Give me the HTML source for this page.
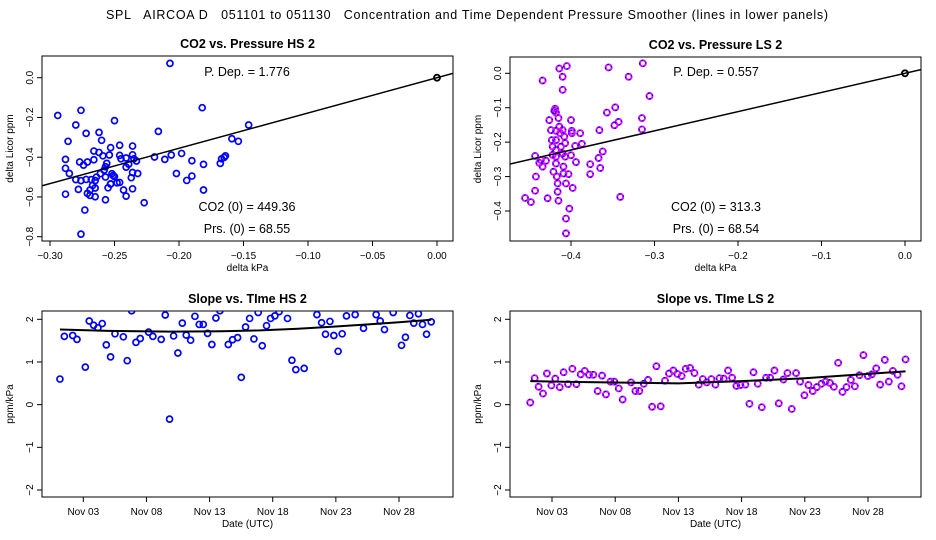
<!DOCTYPE html>
<html><head><meta charset="utf-8"><style>
body{margin:0;background:#fff}
svg{display:block;font-family:"Liberation Sans",sans-serif}
</style></head><body>
<svg id="c" width="936" height="540" xmlns="http://www.w3.org/2000/svg">
<text x="467" y="19" font-size="12.5" text-anchor="middle" textLength="722" lengthAdjust="spacing" style="white-space:pre">SPL   AIRCOA D   051101 to 051130   Concentration and Time Dependent Pressure Smoother (lines in lower panels)</text>
</svg>
<script>
// HS pressure scatter
const hsKpa=[-0.294,-0.276,-0.280,-0.272,-0.286,-0.262,-0.260,-0.250,-0.246,-0.236,-0.266,-0.259,-0.288,-0.277,-0.274,-0.271,-0.266,-0.262,-0.253,-0.254,-0.246,-0.245,-0.241,-0.236,-0.235,-0.233,-0.241,-0.239,-0.256,-0.257,-0.258,-0.252,-0.251,-0.250,-0.261,-0.264,-0.265,-0.268,-0.276,-0.285,-0.288,-0.272,-0.267,-0.265,-0.269,-0.271,-0.278,-0.269,-0.265,-0.288,-0.280,-0.273,-0.257,-0.253,-0.255,-0.253,-0.246,-0.243,-0.241,-0.236,-0.232,-0.236,-0.227,-0.219,-0.216,-0.211,-0.206,-0.198,-0.202,-0.194,-0.190,-0.190,-0.181,-0.181,-0.276,-0.182,-0.207,-0.168,-0.167,-0.165,-0.164,-0.159,-0.154,-0.146,-0.237,-0.248,-0.257];
const hsPpm=[-0.19,-0.164,-0.238,-0.28,-0.32,-0.275,-0.315,-0.216,-0.34,-0.344,-0.369,-0.393,-0.411,-0.424,-0.44,-0.424,-0.413,-0.376,-0.352,-0.389,-0.391,-0.408,-0.404,-0.388,-0.408,-0.419,-0.45,-0.435,-0.431,-0.448,-0.465,-0.483,-0.492,-0.498,-0.483,-0.5,-0.518,-0.513,-0.518,-0.482,-0.456,-0.512,-0.542,-0.555,-0.565,-0.582,-0.562,-0.592,-0.599,-0.586,-0.513,-0.666,-0.614,-0.535,-0.554,-0.534,-0.527,-0.565,-0.596,-0.477,-0.482,-0.559,-0.629,-0.399,-0.27,-0.411,-0.389,-0.381,-0.482,-0.517,-0.495,-0.418,-0.436,-0.565,-0.787,-0.151,0.072,-0.431,-0.408,-0.401,-0.393,-0.307,-0.32,-0.238,-0.503,-0.529,-0.5];
const hsSlope=1.776;
// LS pressure scatter
const lsKpa=[-0.455,-0.448,-0.443,-0.443,-0.442,-0.438,-0.436,-0.434,-0.434,-0.430,-0.428,-0.426,-0.424,-0.423,-0.422,-0.422,-0.421,-0.420,-0.419,-0.418,-0.418,-0.418,-0.418,-0.418,-0.418,-0.417,-0.416,-0.416,-0.415,-0.415,-0.414,-0.414,-0.413,-0.412,-0.410,-0.410,-0.410,-0.410,-0.409,-0.409,-0.408,-0.407,-0.407,-0.406,-0.406,-0.406,-0.405,-0.403,-0.402,-0.400,-0.400,-0.399,-0.399,-0.398,-0.395,-0.394,-0.389,-0.387,-0.377,-0.377,-0.367,-0.366,-0.365,-0.362,-0.357,-0.355,-0.347,-0.348,-0.343,-0.341,-0.331,-0.315,-0.315,-0.314,-0.306];
const lsPpm=[-0.362,-0.374,-0.341,-0.24,-0.3,-0.26,-0.252,-0.271,-0.021,-0.254,-0.363,-0.136,-0.165,-0.194,-0.213,-0.237,-0.286,-0.109,-0.103,-0.114,-0.167,-0.194,-0.223,-0.242,-0.262,-0.3,-0.32,-0.344,-0.37,-0.13,-0.155,0.014,-0.174,-0.213,-0.165,-0.233,-0.048,-0.01,-0.271,-0.291,-0.184,-0.203,-0.242,-0.32,-0.422,-0.465,0.021,-0.293,-0.393,-0.238,-0.136,-0.174,-0.167,-0.333,-0.211,-0.258,-0.174,-0.205,-0.264,-0.293,-0.246,-0.165,-0.275,-0.227,-0.114,0.017,-0.099,-0.151,-0.141,-0.359,-0.01,-0.163,-0.13,0.029,-0.066];
const lsSlope=0.557;
// HS slope vs time
const hsDay=[1.15,1.5,2.16,2.5,3.16,3.47,3.82,4.16,4.5,4.82,5.16,5.51,6.17,6.48,6.83,7.17,7.51,8.17,8.51,9.17,9.49,9.83,10.15,10.49,10.84,11.15,11.5,11.84,12.18,12.5,12.84,13.18,13.5,13.82,14.48,14.82,15.22,15.51,15.85,16.17,16.51,16.85,17.17,17.51,17.83,18.17,18.51,19.17,19.52,19.83,20.49,21.5,21.87,22.18,22.53,22.84,23.18,23.5,23.84,24.53,25.19,26.19,26.51,26.85,27.54,28.2,28.51,28.86,29.17,29.54,29.86,30.18,30.55];
const hsVal=[0.6,1.6,1.62,1.53,0.88,1.96,1.86,1.8,1.9,1.4,1.12,1.66,1.59,1.03,2.2,1.46,1.55,1.7,1.6,1.53,2.1,-0.34,1.61,1.21,1.91,1.63,1.51,2.07,1.88,1.88,1.67,1.41,2.03,2.2,1.41,1.52,1.57,0.64,1.82,2.02,1.54,2.16,1.38,1.85,2.02,2.08,2.18,2.02,1.04,0.82,0.85,2.11,1.92,1.65,1.95,1.62,1.25,1.66,2.08,2.11,1.79,2.11,1.96,1.76,2.16,1.39,1.58,2.09,1.91,2.13,1.88,1.65,1.94];
const hsSmDay=[1.15,5,10,14,17,20,23,26,28,30.55];
const hsSmVal=[1.76,1.73,1.71,1.72,1.74,1.78,1.83,1.89,1.93,1.99];
// LS slope vs time
const lsDay=[1.28,1.63,1.94,2.29,2.6,2.95,3.26,3.61,3.92,4.27,4.61,4.93,5.27,5.59,5.93,6.27,6.61,6.96,7.27,7.62,7.93,8.28,8.59,9.25,9.6,9.91,10.26,10.6,10.92,11.26,11.6,11.94,12.26,12.6,12.92,13.26,13.58,13.92,14.27,14.61,14.93,15.24,15.61,15.93,16.25,16.59,16.93,17.25,17.59,17.91,18.3,18.62,18.94,19.28,19.6,19.94,20.26,20.6,20.94,21.31,21.63,21.97,22.31,22.63,22.97,23.29,23.63,23.95,24.32,24.64,24.98,25.3,25.64,25.98,26.3,26.64,26.96,27.33,27.64,27.99,28.3,28.65,28.96,29.33,29.65,29.97,30.34,30.65,30.97];
const lsVal=[0.05,0.62,0.42,0.26,0.73,0.45,0.61,0.41,0.76,0.48,0.84,0.48,0.71,0.79,0.7,0.7,0.32,0.68,0.24,0.54,0.54,0.38,0.12,0.52,0.32,0.32,0.49,0.58,-0.05,0.9,-0.04,0.56,0.73,0.8,0.72,0.67,0.84,0.86,0.74,0.47,0.6,0.52,0.6,0.47,0.62,0.61,0.8,0.63,0.44,0.46,0.47,0.02,0.76,0.49,-0.06,0.63,0.63,0.8,0.03,0.59,0.74,-0.1,0.74,0.54,0.22,0.46,0.32,0.41,0.49,0.54,0.51,0.42,0.98,0.3,0.41,0.58,0.43,0.69,1.16,0.67,0.71,0.85,0.47,1.05,0.54,0.79,0.7,0.43,1.06];
const lsSmDay=[1.28,5,8,13,18,23,27,30.97];
const lsSmVal=[0.55,0.53,0.52,0.5,0.55,0.62,0.7,0.78];
const dateTicks=[3,8,13,18,23,28];
const dateLabels=["Nov 03","Nov 08","Nov 13","Nov 18","Nov 23","Nov 28"];

const svg=document.getElementById('c');const NS='http://www.w3.org/2000/svg';
function el(t,a,p){const e=document.createElementNS(NS,t);for(const k in a)e.setAttribute(k,a[k]);(p||svg).appendChild(e);return e;}
function lin(d0,d1,r0,r1){return v=>r0+(v-d0)*(r1-r0)/(d1-d0);}

function panel(o){
  const g=el('g',{});
  
  
  const t=el('text',{x:(o.L+o.R)/2,y:o.T-8,'font-size':12.5,'font-weight':'bold','text-anchor':'middle'},g);t.textContent=o.title;
  
  
  const cid='clip'+o.id;
  const cp=el('clipPath',{id:cid},g);el('rect',{x:o.L,y:o.T,width:o.R-o.L,height:o.B-o.T},cp);
  const fr=el('rect',{x:o.L,y:o.T,width:o.R-o.L,height:o.B-o.T,fill:'none',stroke:'#000','stroke-width':1},g);
  
  
  o.xt.forEach((v,i)=>{const x=o.sx(v);el('line',{x1:x,x2:x,y1:o.B,y2:o.B+5,stroke:'#000'},g);
    const tx=el('text',{x:x,y:o.B+18,'font-size':10,'text-anchor':'middle'},g);tx.textContent=o.xl[i];
    
    });
  o.yt.forEach((v,i)=>{const y=o.sy(v);el('line',{x1:o.L-5,x2:o.L,y1:y,y2:y,stroke:'#000'},g);
    const tx=el('text',{x:0,y:0,'font-size':10,'text-anchor':'middle',transform:`translate(${o.L-9},${y}) rotate(-90)`},g);tx.textContent=o.yl[i];
    
    });
  const xa=el('text',{x:(o.L+o.R)/2,y:o.B+30,'font-size':10,'text-anchor':'middle'},g);xa.textContent=o.xlab;
  
  
  const ya=el('text',{x:0,y:0,'font-size':10,'text-anchor':'middle',transform:`translate(${o.L-29},${(o.T+o.B)/2}) rotate(-90)`},g);ya.textContent=o.ylab;
  
  
  const pg=el('g',{'clip-path':`url(#${cid})`},g);
  o.xs.forEach((v,i)=>{const cx=o.sx(v),cy=o.sy(o.ys[i]);
    const c=el('circle',{cx:cx,cy:cy,r:3,fill:'none',stroke:o.col,'stroke-width':1.7},pg);
    
    
    if(o.col2){el('circle',{cx:cx,cy:cy,r:3,fill:'none',stroke:o.col2,'stroke-width':1.7,'stroke-dasharray':'3 1.7'},pg);}
  });
  return {g,pg};
}

function pressurePanel(id,name,title,L,R,T,B,xd,yd,xt,xl,yt,yl,xs,ys,slope,col,col2,txt){
  const sx=lin(xd[0],xd[1],xd[2],xd[3]),sy=lin(yd[0],yd[1],yd[2],yd[3]);
  const p=panel({id,name,title,L,R,T,B,sx,sy,xt,xl,yt,yl,xlab:'delta kPa',ylab:'delta Licor ppm',xs,ys,col,col2});
  const xa=(L-xd[2])/(xd[3]-xd[2])*(xd[1]-xd[0])+xd[0], xb=(R-xd[2])/(xd[3]-xd[2])*(xd[1]-xd[0])+xd[0];
  const ln=el('line',{x1:sx(xa),y1:sy(slope*xa),x2:sx(xb),y2:sy(slope*xb),stroke:'#000','stroke-width':1.5},p.pg);
  
  
  const z=el('circle',{cx:sx(0),cy:sy(0),r:3,fill:'none',stroke:'#000','stroke-width':1.8},p.pg);
  
  
  txt.forEach(t=>{const e=el('text',{x:t[0],y:t[1],'font-size':12.5,'text-anchor':'middle'},p.g);e.textContent=t[2];
    
    });
}
pressurePanel('a','pressure-panel-hs','CO2 vs. Pressure HS 2',42,453,56,241,[-0.3,0,50,437],[0,-0.8,77.7,236.7],
  [-0.3,-0.25,-0.2,-0.15,-0.1,-0.05,0],['−0.30','−0.25','−0.20','−0.15','−0.10','−0.05','0.00'],
  [0,-0.2,-0.4,-0.6,-0.8],['0.0','−0.2','−0.4','−0.6','−0.8'],hsKpa,hsPpm,hsSlope,'#0000ff',null,
  [[247,76,'P. Dep. =  1.776'],[247,211,'CO2 (0) =  449.36'],[247,233,'Prs. (0) =  68.55']]);
pressurePanel('b','pressure-panel-ls','CO2 vs. Pressure LS 2',510,921,57,241,[-0.4,0,571,905],[0,-0.4,73.3,211],
  [-0.4,-0.3,-0.2,-0.1,0],['−0.4','−0.3','−0.2','−0.1','0.0'],
  [0,-0.1,-0.2,-0.3,-0.4],['0.0','−0.1','−0.2','−0.3','−0.4'],lsKpa,lsPpm,lsSlope,'#0000ff','#ff00ff',
  [[716,76,'P. Dep. =  0.557'],[716,211,'CO2 (0) =  313.3'],[716,233,'Prs. (0) =  68.54']]);

function timePanel(id,name,title,L,R,x3,x28,xs,ys,smx,smy,col,col2){
  const sx=lin(3,28,x3,x28),sy=lin(2,-2,319.3,490);
  const p=panel({id,name,title,L,R,T:311,B:497,sx,sy,xt:dateTicks,xl:dateLabels,yt:[2,1,0,-1,-2],yl:['2','1','0','−1','−2'],xlab:'Date (UTC)',ylab:'ppm/kPa',xs,ys,col,col2});
  const pl=el('polyline',{points:smx.map((d,i)=>sx(d)+','+sy(smy[i])).join(' '),fill:'none',stroke:'#000','stroke-width':2},p.pg);
  
  
}
timePanel('c','slope-panel-hs','Slope vs. TIme HS 2',42,453,83.3,399,hsDay,hsVal,hsSmDay,hsSmVal,'#0000ff',null);
timePanel('d','slope-panel-ls','Slope vs. TIme LS 2',510,921,552,868,lsDay,lsVal,lsSmDay,lsSmVal,'#0000ff','#ff00ff');
</script>
</body></html>
